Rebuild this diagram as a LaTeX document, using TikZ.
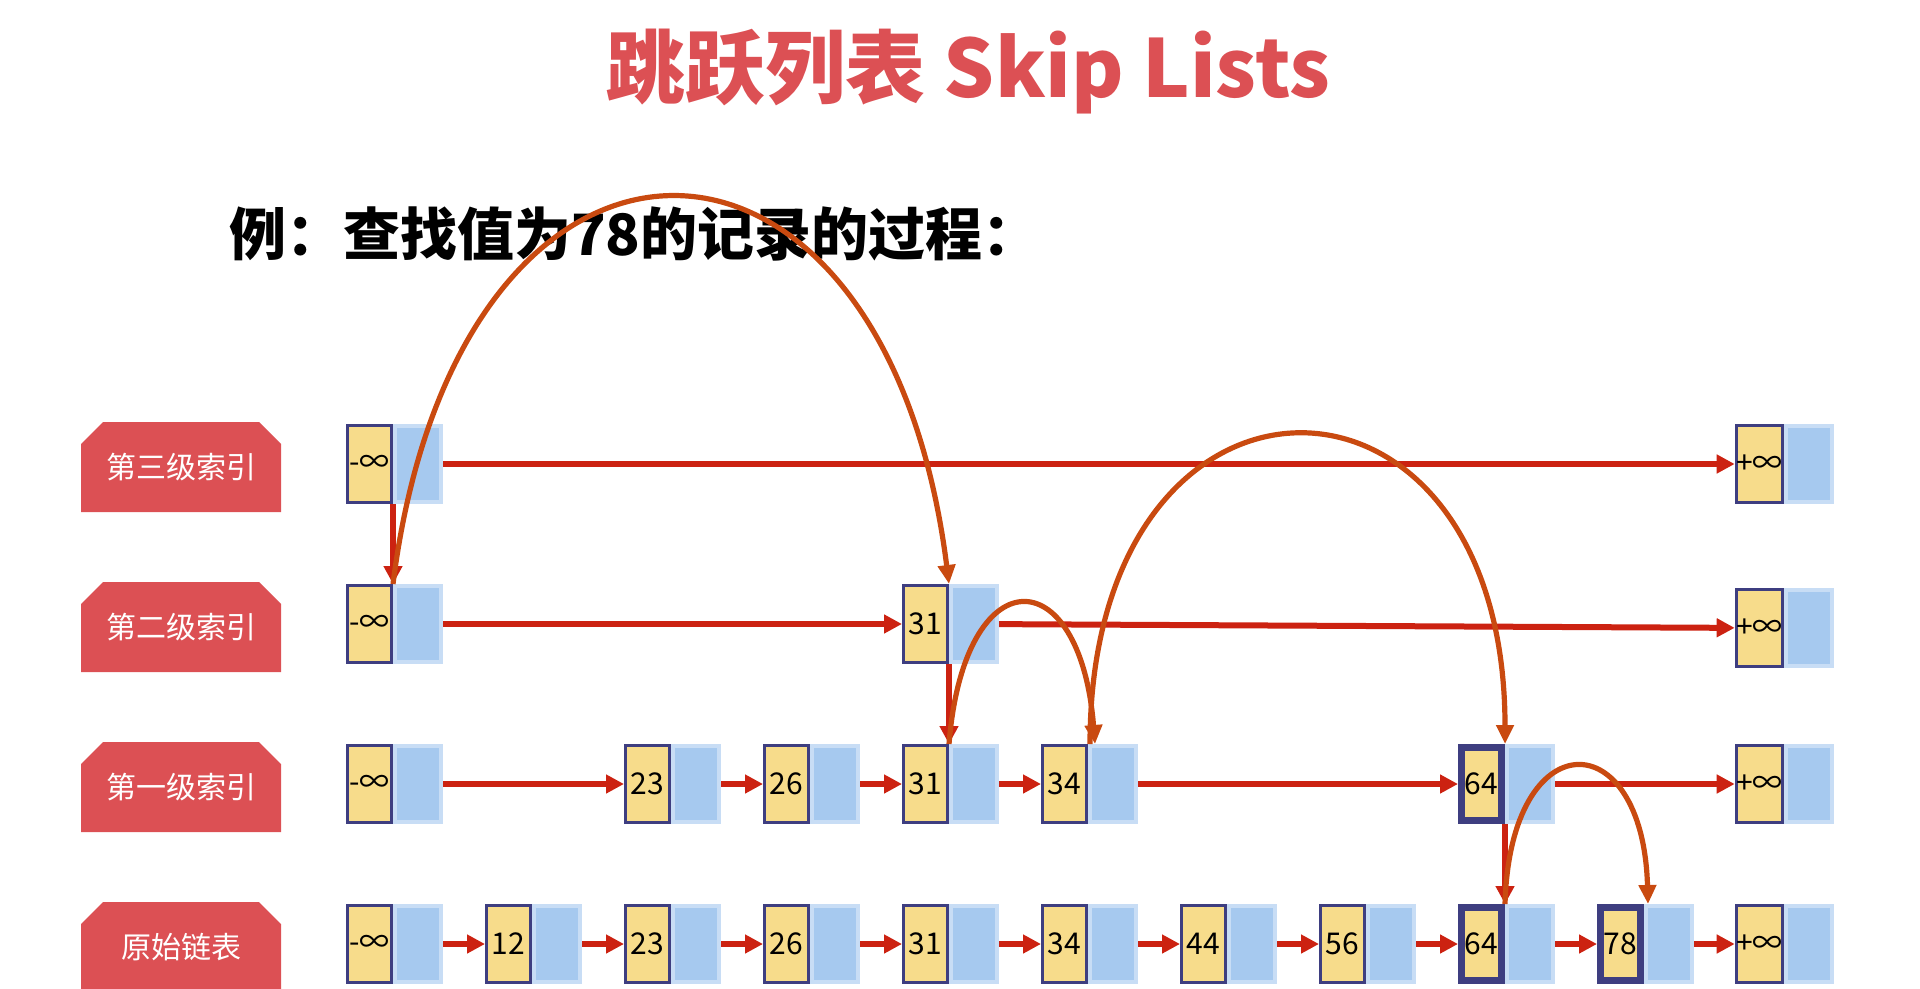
\documentclass[tikz,border=0pt]{standalone}
\usepackage{fontspec}
\setmainfont{Noto Sans CJK SC}
\usepackage{tikz}
\usetikzlibrary{arrows.meta,positioning,shapes.misc}

\definecolor{lblred}{HTML}{DC5054}
\definecolor{keyfill}{HTML}{F7DC8B}
\definecolor{keyline}{HTML}{3E3E80}
\definecolor{ptrfill}{HTML}{A6C9EF}
\definecolor{ptrline}{HTML}{C8DDF5}
\definecolor{linkred}{HTML}{CC2211}
\definecolor{hoporange}{HTML}{C94A10}

\begin{document}
\begin{tikzpicture}[x=0.5pt, y=-0.5pt,
  keyb/.style={draw=keyline, fill=keyfill, line width=1.5pt,
               minimum width=22pt, minimum height=38.5pt, inner sep=0pt,
               font=\fontsize{15}{17}\selectfont},
  hotkey/.style={keyb, line width=3.5pt, minimum width=20pt,
               minimum height=36.5pt},
  ptrb/.style={draw=ptrline, fill=ptrfill, line width=2pt,
               minimum width=23pt, minimum height=38pt, inner sep=0pt},
  lvl/.style={chamfered rectangle, chamfered rectangle corners={north west,north east},
              chamfered rectangle xsep=5.5pt, chamfered rectangle ysep=5.5pt,
              fill=lblred, text=white, minimum width=100pt, minimum height=45pt,
              inner sep=0pt, font=\fontsize{15}{17}\selectfont},
  arr/.style={-{Triangle[length=9pt,width=9pt]}, line width=3pt, draw=linkred},
  hop/.style={-{Triangle[length=9.5pt,width=8.5pt]}, line width=2.6pt, draw=hoporange},
]
\useasboundingbox (0,0) rectangle (1920,989);

%% ---- Row heights (top to bottom)
\def\rA{464} % third-level index
\def\rB{624} % second-level index
\def\rC{784} % first-level index
\def\rD{944} % base list

%% ---- Column centres
\def\colA{369.5}  % -inf
\def\colB{508.5}  % 12
\def\colC{647.5}  % 23
\def\colD{786.5}  % 26
\def\colE{925.5}  % 31
\def\colF{1064.5} % 34
\def\colG{1203.5} % 44
\def\colH{1342.5} % 56
\def\colI{1481.5} % 64
\def\colJ{1620.5} % 78
\def\colK{1759.5} % +inf

% key box + pointer box
\def\skipcell#1#2#3#4#5{%
  \node[#1] (#2) at (#3,#4) {#5};
  \node[ptrb, right=0pt of #2] (#2p) {};}

%% ---- Headings
\node[font=\bfseries\fontsize{40}{48}\selectfont, text=lblred] (title)
  at (968,72) {跳跃列表 Skip Lists};
\node[anchor=west, font=\bfseries\fontsize{28.5}{34}\selectfont] (task)
  at (222,234) {例：查找值为78的记录的过程：};

%% ---- Level tags
\node[lvl] (lvA) at (181,{\rA+3}) {第三级索引};
\node[lvl] (lvB) at (181,{\rB+3}) {第二级索引};
\node[lvl] (lvC) at (181,{\rC+3}) {第一级索引};
\node[lvl] (lvD) at (181,{\rD+3}) {原始链表};

%% ======== LEVEL 3 ========
\skipcell{keyb}{L3mi}{\colA}{\rA}{-∞}
\skipcell{keyb}{L3pi}{\colK}{\rA}{+∞}

%% ======== LEVEL 2 ========
\skipcell{keyb}{L2mi}{\colA}{\rB}{-∞}
\skipcell{keyb}{L2n31}{\colE}{\rB}{31}
\skipcell{keyb}{L2pi}{\colK}{628}{+∞}

%% ======== LEVEL 1 ========
\skipcell{keyb}{L1mi}{\colA}{\rC}{-∞}
\skipcell{keyb}{L1n23}{\colC}{\rC}{23}
\skipcell{keyb}{L1n26}{\colD}{\rC}{26}
\skipcell{keyb}{L1n31}{\colE}{\rC}{31}
\skipcell{keyb}{L1n34}{\colF}{\rC}{34}
\skipcell{hotkey}{L1n64}{\colI}{\rC}{64}
\skipcell{keyb}{L1pi}{\colK}{\rC}{+∞}

%% ======== BASE LIST ========
\skipcell{keyb}{L0mi}{\colA}{\rD}{-∞}
\skipcell{keyb}{L0n12}{\colB}{\rD}{12}
\skipcell{keyb}{L0n23}{\colC}{\rD}{23}
\skipcell{keyb}{L0n26}{\colD}{\rD}{26}
\skipcell{keyb}{L0n31}{\colE}{\rD}{31}
\skipcell{keyb}{L0n34}{\colF}{\rD}{34}
\skipcell{keyb}{L0n44}{\colG}{\rD}{44}
\skipcell{keyb}{L0n56}{\colH}{\rD}{56}
\skipcell{hotkey}{L0n64}{\colI}{\rD}{64}
\skipcell{hotkey}{L0n78}{\colJ}{\rD}{78}
\skipcell{keyb}{L0pi}{\colK}{\rD}{+∞}

%% ---- Links
\draw[arr] (L3mip) -- (L3pi);
\draw[arr] (L2mip) -- (L2n31);
\draw[arr] (L2n31p) -- (L2pi);
\draw[arr] (L1mip) -- (L1n23);
\draw[arr] (L1n23p) -- (L1n26);
\draw[arr] (L1n26p) -- (L1n31);
\draw[arr] (L1n31p) -- (L1n34);
\draw[arr] (L1n34p) -- (L1n64);
\draw[arr] (L1n64p) -- (L1pi);
\draw[arr] (L0mip) -- (L0n12);
\draw[arr] (L0n12p) -- (L0n23);
\draw[arr] (L0n23p) -- (L0n26);
\draw[arr] (L0n26p) -- (L0n31);
\draw[arr] (L0n31p) -- (L0n34);
\draw[arr] (L0n34p) -- (L0n44);
\draw[arr] (L0n44p) -- (L0n56);
\draw[arr] (L0n56p) -- (L0n64);
\draw[arr] (L0n64p) -- (L0n78);
\draw[arr] (L0n78p) -- (L0pi);

% going down a level
\draw[arr] (L3mi.south east) -- (L2mi.north east);
\draw[arr] (L2n31.south east) -- (L1n31.north east);
\draw[arr] (L1n64.south east) -- (L0n64.north east);

%% ---- Search path (hops)
\draw[hop] (L2mi.north east) .. controls +(65,-515) and +(-65,-515) .. (L2n31.north east);
\draw[hop] (L1n31.north east) .. controls +(15,-187) and +(-15,-187) .. ([xshift=3.5pt]L1n34p.north west);
\draw[hop] ([xshift=1pt]L1n34p.north west) .. controls +(0,-412) and +(0,-412) .. (L1n64.north east);
\draw[hop] (L0n64.north east) .. controls +(5,-183) and +(-5,-183) .. ([xshift=2pt]L0n78p.north west);

\end{tikzpicture}
\end{document}
